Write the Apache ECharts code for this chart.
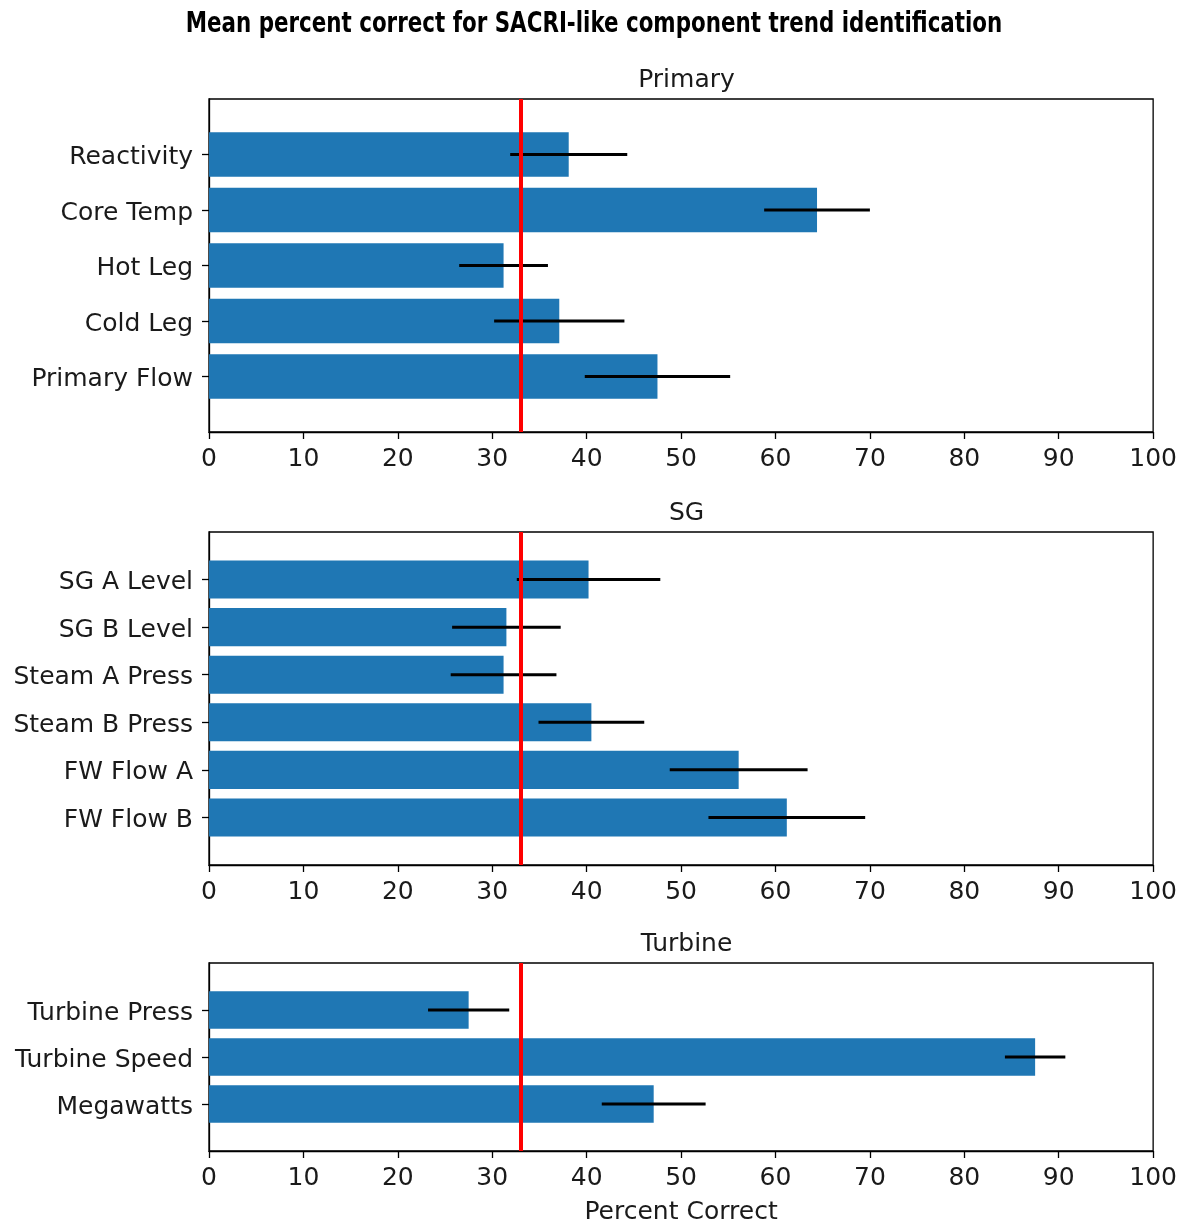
<!DOCTYPE html>
<html>
<head>
<meta charset="utf-8">
<script src="https://cdn.jsdelivr.net/npm/echarts@6/dist/echarts.min.js"></script>
<style>
html,body{margin:0;padding:0;background:#fff;}
#c{width:1180px;height:1226px;}
</style>
</head>
<body>
<div id="c"></div>
<script>
const mainTitle = 'Mean percent correct for SACRI-like component trend identification';
const xTicks = [0, 10, 20, 30, 40, 50, 60, 70, 80, 90, 100];
const chanceLevel = 33.0;

const primaryCats = ['Reactivity', 'Core Temp', 'Hot Leg', 'Cold Leg', 'Primary Flow'];
const primaryMeans = [38.1, 64.4, 31.2, 37.1, 47.5];
const primaryErr = [6.2, 5.6, 4.7, 6.9, 7.7];

const sgCats = ['SG A Level', 'SG B Level', 'Steam A Press', 'Steam B Press', 'FW Flow A', 'FW Flow B'];
const sgMeans = [40.2, 31.5, 31.2, 40.5, 56.1, 61.2];
const sgErr = [7.6, 5.75, 5.6, 5.6, 7.3, 8.3];

const turbineCats = ['Turbine Press', 'Turbine Speed', 'Megawatts'];
const turbineMeans = [27.5, 87.5, 47.1];
const turbineErr = [4.3, 3.2, 5.5];

const panels = [
  {name: 'Primary', cats: primaryCats, means: primaryMeans, err: primaryErr, top: 99, height: 333},
  {name: 'SG', cats: sgCats, means: sgMeans, err: sgErr, top: 532, height: 333},
  {name: 'Turbine', cats: turbineCats, means: turbineMeans, err: turbineErr, top: 963, height: 189}
];

const FONT = 'DejaVu Sans';
const FS = 25;
const TXT = '#1a1a1a';
const gridLeft = 209, gridRight = 26;

const chart = echarts.init(document.getElementById('c'), null, {renderer: 'canvas'});

const grids = [], xAxes = [], yAxes = [], series = [];
const titles = [];

panels.forEach((p, gi) => {
  // pad categories so that bar centers sit one slot away from the frame
  const axisCats = [' '].concat(p.cats, ['  ']);
  grids.push({left: gridLeft, right: gridRight, top: p.top, height: p.height, show: true,
    borderColor: '#000', borderWidth: 1.3, backgroundColor: 'transparent', containLabel: false});
  titles.push({text: p.name, left: (gridLeft + 1180 - gridRight) / 2, top: p.top - 36, textAlign: 'center',
    textStyle: {fontFamily: FONT, fontWeight: 'normal', fontSize: FS, color: TXT}});
  xAxes.push({
    type: 'value', gridIndex: gi, min: xTicks[0], max: xTicks[xTicks.length - 1], interval: xTicks[1] - xTicks[0],
    axisLine: {show: true, lineStyle: {color: '#000', width: 1.3}},
    axisTick: {show: true, length: 7, inside: false, lineStyle: {color: '#000', width: 1.3}},
    axisLabel: {fontFamily: FONT, fontSize: FS, color: TXT, margin: 15},
    splitLine: {show: false},
    name: gi === 2 ? 'Percent Correct' : '',
    nameLocation: 'middle', nameGap: 49,
    nameTextStyle: {fontFamily: FONT, fontSize: FS, color: TXT}
  });
  yAxes.push({
    type: 'category', gridIndex: gi, data: axisCats, inverse: true, boundaryGap: false,
    axisLine: {show: true, lineStyle: {color: '#000', width: 1.3}},
    axisTick: {show: true, length: 7, inside: false, lineStyle: {color: '#000', width: 1.3},
      interval: (idx, v) => v.trim() !== ''},
    axisLabel: {fontFamily: FONT, fontSize: FS, color: TXT, margin: 16, interval: 0,
      formatter: v => v.trim() === '' ? '' : '{t|' + v + '}',
      rich: {t: {fontFamily: FONT, fontSize: FS, color: TXT, padding: [6, 0, 0, 0]}}},
    splitLine: {show: false}
  });
  series.push({
    type: 'bar', xAxisIndex: gi, yAxisIndex: gi, barWidth: '80%',
    data: p.means.map((m, i) => [m, p.cats[i]]),
    itemStyle: {color: '#1f77b4'},
    z: 2,
    markLine: {
      silent: true, symbol: ['none', 'none'], animation: false,
      label: {show: false},
      lineStyle: {color: '#ff0000', width: 4, type: 'solid'},
      data: [{xAxis: chanceLevel}]
    }
  });
  series.push({
    type: 'custom', xAxisIndex: gi, yAxisIndex: gi, z: 3,
    data: p.means.map((m, i) => [m - p.err[i], m + p.err[i], i + 1]),
    encode: {x: [0, 1], y: 2},
    renderItem: (params, api) => {
      const a = api.coord([api.value(0), api.value(2)]);
      const b = api.coord([api.value(1), api.value(2)]);
      return {type: 'line', shape: {x1: a[0], y1: a[1], x2: b[0], y2: b[1]},
        style: {stroke: '#000', lineWidth: 3}};
    }
  });
});

chart.setOption({
  animation: false,
  backgroundColor: '#fff',
  title: titles,
  graphic: [{
    type: 'text', x: 594, y: 25, scaleX: 0.85, scaleY: 1,
    style: {
      text: mainTitle, textAlign: 'center', textVerticalAlign: 'middle',
      font: 'bold 28px "Liberation Sans Narrow", "DejaVu Sans Condensed", sans-serif', fill: '#000'
    }
  }],
  grid: grids,
  xAxis: xAxes,
  yAxis: yAxes,
  series: series
});
</script>
</body>
</html>
